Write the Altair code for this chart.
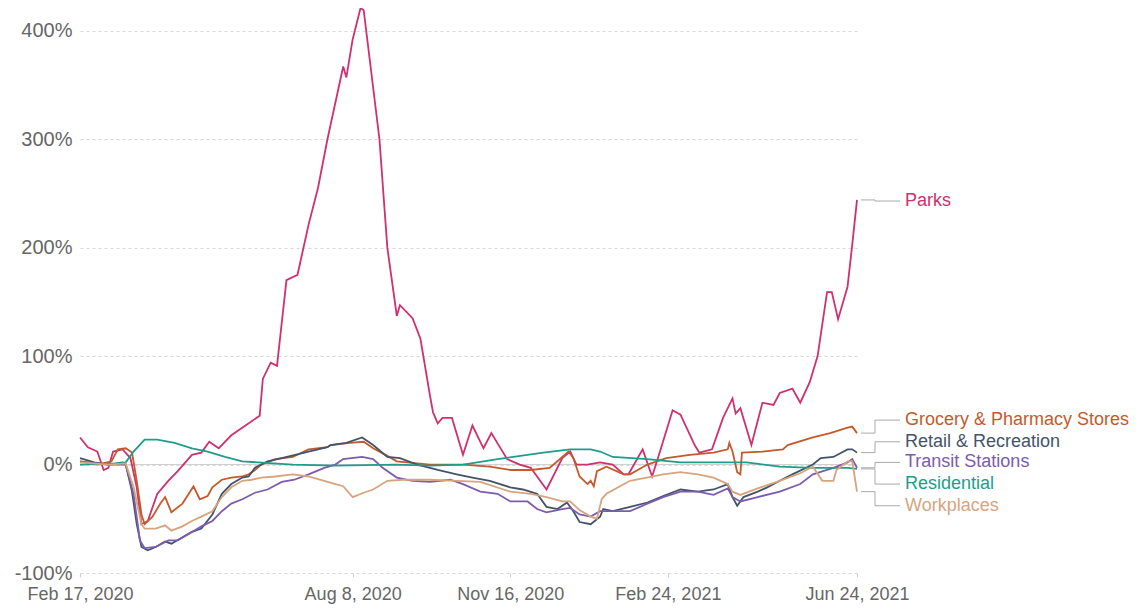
import altair as alt
import pandas as pd

START = pd.Timestamp("2020-02-17")

SERIES = ["Parks", "Grocery & Pharmacy Stores", "Retail & Recreation",
          "Transit Stations", "Residential", "Workplaces"]
COLORS = ["#D0306F", "#C45A2C", "#44536A", "#7C5CB0", "#1E9D8B", "#D8A47E"]

# days since Feb 17, 2020 and % change from baseline
parks_days = [0, 5, 11, 15, 18, 21, 27, 32, 36, 39, 43, 49, 56, 62, 71, 77, 82, 88, 96, 105,
              114, 116, 121, 125, 131, 138, 145, 151, 157, 167, 169, 173, 178, 180, 190, 195,
              201, 203, 211, 216, 222, 224, 227, 230, 236, 243, 249, 256, 261, 271, 279, 286,
              296, 306, 311, 315, 322, 330, 338, 345, 348, 357, 363, 368, 376, 381, 390, 393,
              401, 408, 414, 416, 419, 426, 433, 440, 444, 452, 457, 463, 468, 474, 477, 481,
              487, 490, 493]
parks_vals = [25, 16, 12, -5, -3, 12, 14, 6, -21, -55, -52, -27, -15, -6, 9, 11, 21, 15, 27, 36,
              45, 79, 94, 91, 170, 175, 221, 255, 300, 367, 357, 392, 421, 419, 300, 200,
              137, 147, 135, 116, 64, 48, 38, 43, 43, 9, 36, 15, 29, 5, 0, -3,
              -23, 6, 12, 0, 0, 2, 0, -9, -9, 14, -11, 12, 50, 46, 18, 11,
              14, 43, 61, 47, 52, 18, 57, 55, 66, 70, 57, 76, 100, 159, 159, 134,
              164, 203, 244]

grocery_days = [0, 11, 20, 24, 29, 33, 36, 39, 41, 46, 51, 54, 58, 65, 69, 72, 76, 81, 84, 90,
                96, 103, 107, 111, 115, 124, 135, 145, 157, 159, 171, 180, 186, 195, 201, 222,
                243, 260, 273, 286, 298, 306, 310, 313, 317, 322, 324, 326, 328, 334, 345, 349,
                360, 372, 387, 402, 411, 412, 414, 417, 419, 420, 433, 446, 449, 465, 476, 487,
                490, 493]
grocery_vals = [3, 0, 3, 14, 15, 11, -15, -46, -55, -48, -36, -30, -44, -36, -27, -20, -32, -29, -21, -14,
                -12, -11, -9, -5, 0, 5, 7, 14, 16, 18, 20, 21, 15, 8, 3, 0,
                0, -2, -5, -5, -3, 7, 12, 6, -11, -18, -15, -20, -6, -2, -9, -9,
                0, 6, 9, 11, 14, 20, 12, -7, -9, 11, 12, 14, 18, 25, 29, 34,
                35, 29]

retail_days = [0, 9, 18, 27, 29, 33, 36, 39, 43, 48, 54, 58, 65, 71, 77, 84, 90, 96, 103, 107,
               111, 119, 128, 145, 157, 159, 169, 179, 186, 195, 203, 214, 227, 239, 249, 260,
               273, 281, 290, 296, 303, 309, 313, 317, 324, 330, 332, 338, 349, 360, 370, 381,
               392, 402, 411, 414, 417, 421, 430, 436, 444, 452, 465, 470, 478, 487, 490, 493]
retail_vals = [6, 2, 0, 2, 0, -25, -55, -76, -79, -76, -71, -73, -67, -62, -59, -46, -27, -18, -12, -11,
               -3, 3, 6, 12, 16, 18, 20, 25, 18, 7, 6, 0, -5, -9, -12, -15,
               -21, -23, -27, -39, -41, -35, -43, -53, -55, -48, -41, -43, -39, -35, -29, -23,
               -25, -23, -18, -30, -38, -30, -25, -21, -15, -9, 0, 6, 7, 14, 14, 11]

transit_days = [0, 18, 29, 34, 38, 41, 48, 56, 62, 69, 77, 84, 90, 96, 103, 111, 119, 128, 136, 145,
                155, 162, 167, 179, 186, 192, 201, 211, 222, 235, 243, 254, 265, 273, 284, 290,
                296, 306, 311, 317, 324, 330, 338, 349, 360, 370, 381, 392, 402, 411, 414, 419,
                430, 444, 457, 465, 478, 487, 490, 493]
transit_vals = [3, 0, 0, -27, -70, -77, -76, -70, -70, -64, -57, -52, -43, -36, -32, -26, -23, -16, -14, -9,
                -3, 0, 5, 7, 5, -3, -12, -15, -16, -14, -18, -25, -27, -34, -34, -41,
                -44, -41, -40, -46, -48, -43, -43, -43, -36, -30, -25, -25, -28, -22, -30, -34,
                -30, -25, -18, -9, -3, 2, 5, -3]

residential_days = [0, 24, 29, 34, 41, 49, 60, 71, 81, 92, 103, 113, 135, 162, 200, 222, 243, 265,
                    294, 311, 324, 330, 338, 360, 381, 402, 423, 444, 465, 487, 493]
residential_vals = [0, 1, 2, 12, 23, 23, 20, 15, 12, 7, 3, 2, 0, -1, 0, -1, 0, 5,
                    11, 14, 14, 12, 7, 5, 2, 2, 2, -2, -3, -3, -4]

workplaces_days = [0, 18, 29, 34, 39, 41, 48, 54, 58, 65, 71, 77, 84, 90, 96, 103, 109, 115, 124, 135,
                   145, 155, 162, 167, 173, 180, 186, 195, 205, 222, 239, 254, 273, 286, 296, 306,
                   311, 317, 324, 328, 331, 334, 349, 370, 381, 392, 402, 411, 414, 419, 430, 444,
                   457, 465, 471, 478, 480, 487, 490, 493]
workplaces_vals = [2, 0, 1, -21, -55, -59, -59, -56, -61, -57, -52, -48, -43, -30, -21, -15, -14, -12, -11, -9,
                   -11, -15, -18, -20, -30, -26, -23, -15, -14, -14, -15, -16, -25, -27, -30, -34,
                   -34, -42, -48, -50, -32, -27, -15, -9, -7, -9, -12, -18, -25, -28, -22, -15,
                   -8, -2, -15, -15, -5, 3, 3, -25]

# where each end label sits (in % units), spaced to avoid overlaps
LABEL_Y = [243, 41, 21, 2, -18, -38]

TICK_DATES = [(2020, 2, 17), (2020, 8, 8), (2020, 11, 16), (2021, 2, 24), (2021, 6, 24)]

days_list = [parks_days, grocery_days, retail_days, transit_days, residential_days, workplaces_days]
vals_list = [parks_vals, grocery_vals, retail_vals, transit_vals, residential_vals, workplaces_vals]

rows = []
for name, ds, vs in zip(SERIES, days_list, vals_list):
    for d, v in zip(ds, vs):
        rows.append({"series": name,
                     "date": (START + pd.Timedelta(days=d)).strftime("%Y-%m-%dT00:00:00"),
                     "value": v})
df = pd.DataFrame(rows)

lab = pd.DataFrame({"series": SERIES,
                    "end": [vs[-1] for vs in vals_list],
                    "label_y": LABEL_Y})

FONT = "Liberation Sans"
W, H = 777, 565
yscale = alt.Scale(domain=[-100, 421], nice=False, zero=False)
xscale = alt.Scale(domain=[alt.DateTime(year=y, month=m, date=d)
                           for (y, m, d) in (TICK_DATES[0], TICK_DATES[-1])], nice=False)
cscale = alt.Scale(domain=SERIES, range=COLORS)

lines = alt.Chart(df).mark_line(strokeWidth=1.8, interpolate="linear").encode(
    x=alt.X("date:T", scale=xscale,
            axis=alt.Axis(values=[alt.DateTime(year=y, month=m, date=d) for (y, m, d) in TICK_DATES],
                          format="%b %-d, %Y", title=None, grid=False, domain=False,
                          ticks=True, tickColor="#d0d0d0", tickSize=4, labelPadding=8,
                          labelFontSize=18, labelColor="#666666", labelFont=FONT,
                          labelOverlap=False, labelFlush=False)),
    y=alt.Y("value:Q", scale=yscale,
            axis=alt.Axis(values=[-100, 0, 100, 200, 300, 400], labelExpr="datum.value + '%'",
                          title=None, grid=True, gridDash=[3, 3], gridColor="#d9d9d9",
                          domain=False, ticks=False, labelPadding=8, labelFontSize=20,
                          labelColor="#666666", labelFont=FONT)),
    color=alt.Color("series:N", scale=cscale, legend=None),
    detail="series:N",
)

zero = alt.Chart(pd.DataFrame({"y": [0]})).mark_rule(color="#cfcfcf", strokeWidth=1).encode(
    y=alt.Y("y:Q", scale=yscale)
)

seg1 = alt.Chart(lab).mark_rule(color="#aaaaaa", strokeWidth=1).encode(
    x=alt.value(W + 4), x2=alt.value(W + 18), y=alt.Y("end:Q", scale=yscale))
seg2 = alt.Chart(lab).mark_rule(color="#aaaaaa", strokeWidth=1).encode(
    x=alt.value(W + 18), y=alt.Y("end:Q", scale=yscale), y2="label_y:Q")
seg3 = alt.Chart(lab).mark_rule(color="#aaaaaa", strokeWidth=1).encode(
    x=alt.value(W + 18), x2=alt.value(W + 43), y=alt.Y("label_y:Q", scale=yscale))
texts = alt.Chart(lab).mark_text(align="left", baseline="middle", fontSize=18, font=FONT).encode(
    x=alt.value(W + 48), y=alt.Y("label_y:Q", scale=yscale), text="series:N",
    color=alt.Color("series:N", scale=cscale, legend=None))

chart = alt.layer(zero, lines, seg1, seg2, seg3, texts).properties(
    width=W, height=H,
    autosize=alt.AutoSizeParams(type="none"),
    padding={"left": 72, "top": 0, "right": 272, "bottom": 32},
).configure(font=FONT).configure_view(stroke=None)

chart.save("out.html", embed_options={"renderer": "svg", "actions": False})
